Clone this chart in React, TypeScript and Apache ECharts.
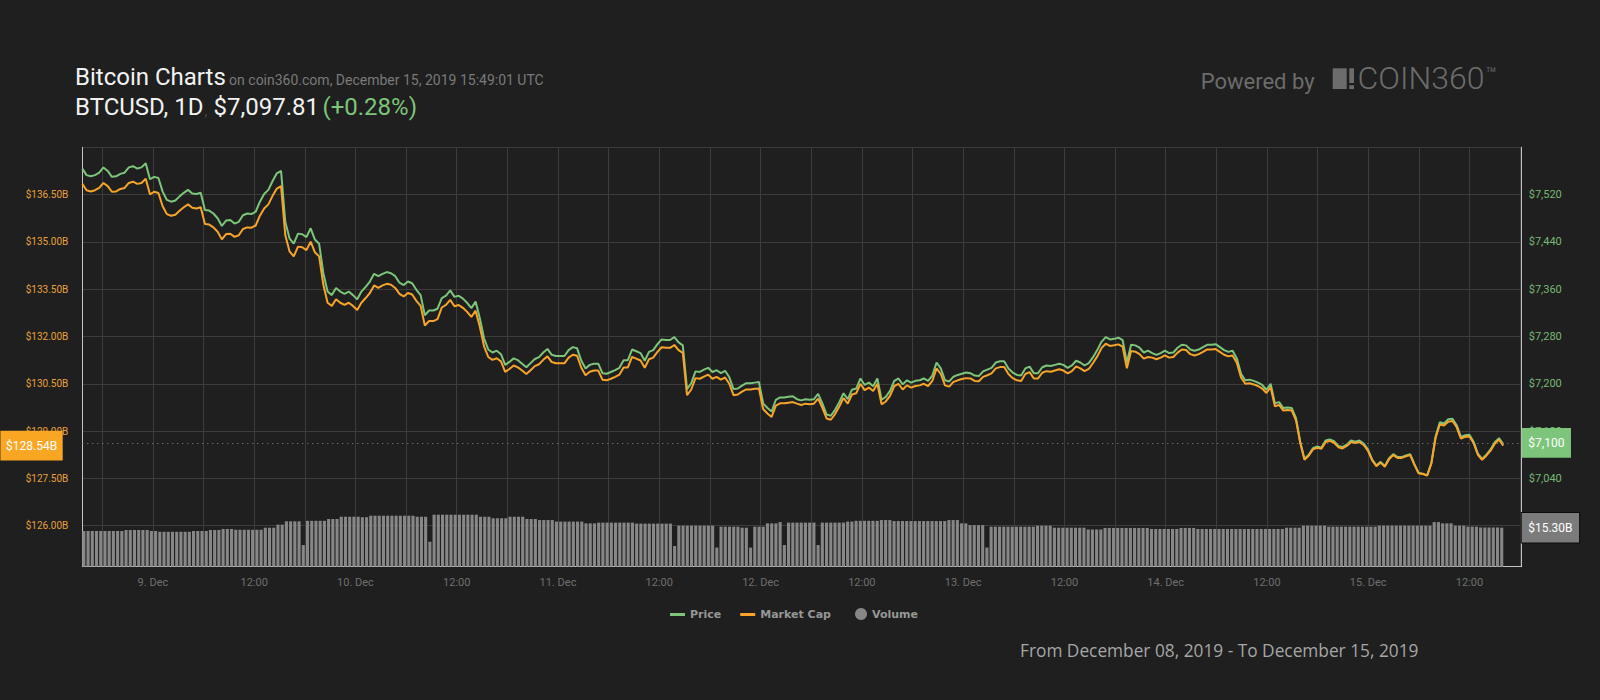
import React, { useEffect, useRef } from "react";
import * as echarts from "echarts";

// ---------- time axis ----------
const START_TIME = Date.UTC(2019, 11, 8, 15, 49, 1);
const STEP_MS = 30 * 60 * 1000;
const AXIS_END_TIME = Date.UTC(2019, 11, 15, 18, 0, 0);
const HALF_DAY_MS = 12 * 3600 * 1000;
const MONTHS = ["Jan", "Feb", "Mar", "Apr", "May", "Jun", "Jul", "Aug", "Sep", "Oct", "Nov", "Dec"];

// ---------- series (30-minute samples) ----------
const PRICE = [
  7564, 7553, 7551, 7553, 7557, 7566, 7560, 7550, 7551, 7555,
  7557, 7566, 7568, 7564, 7566, 7573, 7546, 7550, 7548, 7525,
  7511, 7508, 7510, 7517, 7523, 7528, 7522, 7521, 7523, 7494,
  7493, 7488, 7480, 7467, 7476, 7477, 7471, 7474, 7485, 7488,
  7487, 7491, 7508, 7521, 7528, 7543, 7556, 7560, 7474, 7446,
  7437, 7454, 7453, 7448, 7463, 7444, 7437, 7387, 7356, 7350,
  7362, 7356, 7352, 7356, 7350, 7343, 7356, 7364, 7373, 7386,
  7382, 7386, 7389, 7387, 7382, 7371, 7367, 7373, 7370, 7359,
  7350, 7316, 7324, 7324, 7327, 7345, 7349, 7358, 7347, 7349,
  7344, 7337, 7328, 7339, 7311, 7277, 7258, 7253, 7256, 7250,
  7232, 7237, 7243, 7240, 7234, 7228, 7235, 7242, 7245, 7253,
  7259, 7249, 7247, 7247, 7247, 7257, 7262, 7260, 7239, 7226,
  7232, 7234, 7234, 7218, 7217, 7220, 7223, 7227, 7240, 7240,
  7258, 7255, 7252, 7239, 7254, 7257, 7267, 7275, 7274, 7274,
  7279, 7270, 7265, 7191, 7201, 7221, 7220, 7224, 7227, 7220,
  7223, 7218, 7222, 7211, 7191, 7192, 7197, 7201, 7201, 7202,
  7203, 7167, 7159, 7153, 7173, 7177, 7177, 7178, 7179, 7174,
  7172, 7174, 7173, 7174, 7183, 7167, 7148, 7146, 7156, 7169,
  7184, 7174, 7190, 7192, 7209, 7198, 7202, 7196, 7209, 7173,
  7178, 7188, 7205, 7209, 7199, 7206, 7202, 7205, 7206, 7209,
  7205, 7214, 7236, 7226, 7206, 7204, 7212, 7215, 7217, 7219,
  7218, 7214, 7213, 7221, 7224, 7227, 7236, 7238, 7238, 7226,
  7219, 7215, 7214, 7226, 7229, 7218, 7218, 7228, 7231, 7230,
  7232, 7234, 7232, 7227, 7231, 7239, 7236, 7231, 7235, 7245,
  7257, 7271, 7279, 7275, 7276, 7278, 7274, 7236, 7266, 7265,
  7261, 7253, 7256, 7252, 7249, 7252, 7256, 7252, 7253, 7261,
  7266, 7265, 7258, 7256, 7258, 7262, 7266, 7266, 7267, 7262,
  7257, 7254, 7256, 7243, 7217, 7206, 7207, 7205, 7202, 7198,
  7190, 7200, 7167, 7169, 7159, 7160, 7159, 7142, 7102, 7073,
  7080, 7091, 7094, 7092, 7104, 7106, 7103, 7095, 7093, 7097,
  7104, 7102, 7104, 7099, 7089, 7072, 7062, 7068, 7061, 7074,
  7081, 7076, 7076, 7079, 7081, 7064, 7049, 7048, 7045, 7066,
  7111, 7135, 7133, 7140, 7141, 7130, 7110, 7113, 7114, 7102,
  7082, 7073, 7080, 7089, 7101, 7108, 7098,
];

const MARKET_CAP = [
  136.84, 136.64, 136.60, 136.64, 136.71, 136.87, 136.77, 136.59, 136.60, 136.68,
  136.71, 136.87, 136.91, 136.84, 136.87, 137.00, 136.51, 136.59, 136.55, 136.13,
  135.88, 135.83, 135.86, 135.99, 136.10, 136.19, 136.08, 136.06, 136.10, 135.57,
  135.55, 135.46, 135.32, 135.08, 135.25, 135.26, 135.16, 135.21, 135.41, 135.46,
  135.45, 135.52, 135.83, 136.06, 136.19, 136.46, 136.69, 136.77, 135.21, 134.70,
  134.54, 134.85, 134.83, 134.74, 135.01, 134.67, 134.54, 133.64, 133.07, 132.97,
  133.18, 133.07, 133.00, 133.07, 132.97, 132.84, 133.07, 133.22, 133.38, 133.62,
  133.54, 133.62, 133.67, 133.64, 133.54, 133.35, 133.27, 133.38, 133.33, 133.13,
  132.97, 132.35, 132.49, 132.49, 132.55, 132.92, 133.00, 133.16, 132.96, 133.00,
  132.91, 132.78, 132.62, 132.82, 132.31, 131.69, 131.35, 131.26, 131.31, 131.21,
  130.88, 130.97, 131.08, 131.02, 130.92, 130.81, 130.93, 131.06, 131.12, 131.26,
  131.37, 131.19, 131.15, 131.15, 131.15, 131.33, 131.42, 131.39, 131.01, 130.77,
  130.88, 130.92, 130.92, 130.63, 130.61, 130.66, 130.72, 130.79, 131.02, 131.02,
  131.35, 131.30, 131.24, 131.01, 131.28, 131.33, 131.51, 131.66, 131.64, 131.64,
  131.73, 131.57, 131.48, 130.14, 130.32, 130.68, 130.66, 130.73, 130.79, 130.66,
  130.72, 130.63, 130.70, 130.50, 130.14, 130.16, 130.25, 130.32, 130.32, 130.34,
  130.35, 129.70, 129.56, 129.45, 129.81, 129.88, 129.88, 129.90, 129.92, 129.87,
  129.83, 129.87, 129.85, 129.87, 130.03, 129.74, 129.40, 129.36, 129.54, 129.78,
  130.05, 129.87, 130.16, 130.20, 130.50, 130.30, 130.38, 130.27, 130.50, 129.85,
  129.94, 130.12, 130.43, 130.50, 130.32, 130.45, 130.38, 130.43, 130.45, 130.50,
  130.43, 130.59, 130.99, 130.81, 130.45, 130.41, 130.56, 130.61, 130.65, 130.68,
  130.67, 130.59, 130.58, 130.72, 130.77, 130.83, 130.99, 131.03, 131.03, 130.81,
  130.68, 130.61, 130.59, 130.81, 130.87, 130.67, 130.67, 130.85, 130.90, 130.88,
  130.92, 130.96, 130.92, 130.83, 130.90, 131.05, 130.99, 130.90, 130.97, 131.16,
  131.37, 131.63, 131.77, 131.70, 131.72, 131.75, 131.68, 130.99, 131.54, 131.52,
  131.44, 131.30, 131.35, 131.33, 131.28, 131.33, 131.40, 131.33, 131.35, 131.49,
  131.59, 131.57, 131.44, 131.40, 131.44, 131.51, 131.59, 131.59, 131.60, 131.51,
  131.42, 131.37, 131.40, 131.17, 130.70, 130.50, 130.52, 130.48, 130.43, 130.35,
  130.21, 130.39, 129.79, 129.83, 129.65, 129.67, 129.65, 129.34, 128.62, 128.09,
  128.22, 128.42, 128.47, 128.44, 128.65, 128.69, 128.63, 128.49, 128.45, 128.53,
  128.65, 128.62, 128.65, 128.56, 128.38, 128.07, 127.89, 128.00, 127.87, 128.11,
  128.24, 128.15, 128.15, 128.20, 128.24, 127.93, 127.66, 127.64, 127.59, 127.97,
  128.78, 129.21, 129.18, 129.30, 129.32, 129.12, 128.76, 128.82, 128.83, 128.62,
  128.25, 128.09, 128.22, 128.38, 128.60, 128.73, 128.54,
];

const VOLUME = [
  14.0, 14.0, 14.0, 14.0, 14.0, 14.0, 14.0, 14.0, 14.0, 14.0,
  14.4, 14.4, 14.4, 14.4, 14.4, 14.4, 14.0, 14.0, 13.7, 13.7,
  13.7, 13.7, 13.7, 13.7, 13.7, 13.7, 14.0, 14.0, 14.0, 14.0,
  14.4, 14.4, 14.4, 14.8, 14.8, 14.8, 14.5, 14.5, 14.5, 14.5,
  14.5, 14.5, 14.5, 15.3, 15.3, 15.3, 16.5, 16.5, 17.8, 17.8,
  17.8, 17.8, 8.5, 18.0, 18.0, 18.0, 18.0, 18.0, 18.7, 18.7,
  18.7, 19.6, 19.6, 19.6, 19.6, 19.6, 19.4, 19.4, 20.0, 20.0,
  20.0, 20.0, 20.0, 20.0, 20.0, 20.0, 20.0, 20.0, 20.0, 19.6,
  19.6, 19.6, 9.8, 20.4, 20.4, 20.4, 20.4, 20.4, 20.4, 20.4,
  20.4, 20.4, 20.4, 20.4, 19.6, 19.6, 19.6, 19.0, 19.0, 19.0,
  19.0, 19.6, 19.6, 19.6, 19.6, 18.7, 18.7, 18.7, 18.3, 18.3,
  18.3, 18.3, 17.7, 17.7, 17.7, 17.7, 17.7, 17.7, 17.7, 17.0,
  17.0, 17.0, 17.3, 17.3, 17.3, 17.3, 17.3, 17.3, 17.3, 17.3,
  17.3, 16.9, 16.9, 16.9, 16.9, 16.9, 16.9, 16.9, 16.9, 16.9,
  8.1, 16.1, 16.1, 16.1, 16.1, 16.1, 16.1, 16.1, 16.1, 16.1,
  7.5, 15.7, 15.7, 15.7, 15.7, 15.7, 15.3, 15.3, 7.5, 15.7,
  15.7, 15.7, 17.0, 17.0, 17.0, 17.5, 8.5, 17.3, 17.3, 17.3,
  17.3, 17.3, 17.3, 17.3, 8.5, 17.3, 17.3, 17.3, 17.3, 17.3,
  17.3, 17.7, 17.7, 18.0, 18.0, 18.0, 18.0, 18.0, 18.0, 18.3,
  18.3, 18.3, 17.9, 17.9, 17.9, 17.9, 17.9, 17.9, 17.9, 17.9,
  17.9, 17.9, 17.9, 17.9, 17.9, 18.3, 18.3, 18.3, 17.0, 17.0,
  16.3, 16.3, 16.3, 16.3, 7.5, 15.7, 15.7, 15.7, 15.7, 15.7,
  15.7, 15.7, 15.7, 15.7, 15.7, 15.7, 16.1, 16.1, 16.1, 16.1,
  15.3, 15.3, 15.3, 15.3, 15.3, 15.3, 15.3, 15.3, 14.6, 14.6,
  14.6, 14.6, 15.2, 15.2, 15.2, 15.2, 15.2, 15.2, 15.2, 15.2,
  15.2, 15.2, 15.2, 14.8, 14.8, 14.8, 14.8, 14.8, 14.8, 14.8,
  15.2, 15.2, 15.2, 15.2, 14.8, 14.8, 14.8, 14.8, 14.8, 14.8,
  14.8, 14.8, 14.8, 14.8, 14.8, 14.8, 14.8, 14.8, 14.8, 14.8,
  14.8, 14.8, 14.8, 14.8, 14.8, 15.3, 15.3, 15.3, 15.3, 16.1,
  16.1, 16.1, 16.1, 16.1, 16.1, 15.7, 15.7, 15.7, 15.7, 15.7,
  15.7, 15.7, 15.7, 15.7, 15.7, 15.7, 15.7, 16.1, 16.1, 16.1,
  16.1, 16.1, 16.1, 16.1, 16.1, 16.1, 16.1, 16.1, 16.1, 16.1,
  17.5, 17.5, 17.0, 17.0, 17.0, 16.1, 16.1, 16.1, 15.7, 15.7,
  15.7, 15.4, 15.4, 15.4, 15.4, 15.4, 15.3,
];

// ---------- axes ----------
const MCAP_MIN = 124.5;
const MCAP_MAX = 138;
const MCAP_STEP = 1.5;
const PRICE_MIN = 6880;
const PRICE_MAX = 7600;
const PRICE_STEP = 80;
const PRICE_LOWEST_SHOWN_LABEL = 7040; // lower labels sit behind the volume tag
const VOLUME_AXIS_MAX = 164.5;

// ---------- last value tags ----------
const LAST_PRICE_TAG = 7100;
const LAST_MCAP_TAG = 128.54;
const LAST_VOLUME_TAG = 15.3;

// ---------- texts ----------
const HEADER_TITLE = "Bitcoin Charts";
const HEADER_SOURCE = "on coin360.com, December 15, 2019 15:49:01 UTC";
const HEADER_PAIR = "BTCUSD, 1D";
const HEADER_PRICE = "$7,097.81";
const HEADER_CHANGE = "(+0.28%)";
const FOOTER_RANGE = "From December 08, 2019 - To December 15, 2019";

// ---------- colours & fonts ----------
const BG = "#1e1f1e";
const GREEN = "#7dc57a";
const ORANGE = "#f7a52a";
const GRID = "#3b3c3b";
const AXIS = "#c4c4c4";
const LOGO = "#6c6c6c";
const VOL_GREY = "#878787";
const FONT = "Roboto, 'Noto Sans', sans-serif";
const LEGEND_FONT = "'DejaVu Sans', Verdana, sans-serif";

const fmtTime = (v: number) => {
  const d = new Date(v);
  if (d.getUTCMinutes() !== 0 || d.getUTCSeconds() !== 0) return "";
  const h = d.getUTCHours();
  if (h === 0) return `${d.getUTCDate()}. ${MONTHS[d.getUTCMonth()]}`;
  if (h === 12) return "12:00";
  return "";
};

const fmtPrice = (v: number) => "$" + Math.round(v).toLocaleString("en-US");
const fmtBillions = (v: number) => "$" + v.toFixed(2) + "B";

export default function App() {
  const ref = useRef<HTMLDivElement>(null);

  useEffect(() => {
    if (!ref.current) return;
    const chart = echarts.init(ref.current, undefined, { renderer: "svg" });

    const times = PRICE.map((_, i) => START_TIME + i * STEP_MS);
    const priceData = PRICE.map((v, i) => [times[i], v]);
    const mcapData = MARKET_CAP.map((v, i) => [times[i], v]);
    const volData = VOLUME.map((v, i) => [times[i], v]);

    const gridLeft = 82.3;
    const gridRight = 78.3;
    const gridTop = 147.3;

    const legendText = { color: "#979797", fontSize: 11, fontWeight: "bold", fontFamily: LEGEND_FONT };

    const tagLabel = (text: string, bg: string, position: string, distance: number, padding: number[], extra: any = {}) => ({
      show: true,
      position,
      distance,
      formatter: () => text,
      color: "#ffffff",
      fontSize: 12,
      lineHeight: 12,
      fontFamily: FONT,
      backgroundColor: bg,
      padding,
      ...extra,
    });

    const option: any = {
      animation: false,
      useUTC: true,
      backgroundColor: BG,
      textStyle: { fontFamily: FONT },
      grid: [
        { left: gridLeft, right: gridRight, top: gridTop, height: 425.7 },
        { left: gridLeft, right: gridRight, top: gridTop, height: 419.4 },
      ],
      legend: [
        {
          left: 665,
          top: 604,
          itemWidth: 15,
          itemHeight: 3,
          itemGap: 19,
          icon: "rect",
          selectedMode: false,
          textStyle: legendText,
          data: ["Price", "Market Cap"],
        },
        {
          left: 850,
          top: 603,
          itemWidth: 12,
          itemHeight: 12,
          icon: "circle",
          selectedMode: false,
          textStyle: legendText,
          data: ["Volume"],
        },
      ],
      xAxis: [
        {
          type: "time",
          gridIndex: 0,
          min: START_TIME,
          max: AXIS_END_TIME,
          show: false,
        },
        {
          type: "time",
          gridIndex: 1,
          min: START_TIME,
          max: AXIS_END_TIME,
          minInterval: HALF_DAY_MS,
          maxInterval: HALF_DAY_MS,
          axisLine: { show: true, onZero: false, lineStyle: { color: AXIS, width: 1 } },
          axisTick: { show: false },
          splitLine: { show: true, lineStyle: { color: GRID, width: 1 } },
          axisLabel: {
            color: "#6f6f6f",
            fontSize: 11,
            margin: 10,
            showMinLabel: false,
            showMaxLabel: false,
            formatter: (v: number) => fmtTime(v),
          },
        },
      ],
      yAxis: [
        {
          type: "value",
          gridIndex: 0,
          position: "left",
          min: MCAP_MIN,
          max: MCAP_MAX,
          interval: MCAP_STEP,
          axisLine: { show: false },
          axisTick: { show: false },
          splitLine: { show: true, showMinLine: false, lineStyle: { color: GRID, width: 1 } },
          axisLabel: {
            color: "#e9a13b",
            fontSize: 10,
            margin: 14,
            showMinLabel: false,
            showMaxLabel: false,
            formatter: (v: number) => fmtBillions(v),
          },
        },
        {
          type: "value",
          gridIndex: 0,
          position: "right",
          min: PRICE_MIN,
          max: PRICE_MAX,
          interval: PRICE_STEP,
          axisLine: { show: false },
          axisTick: { show: false },
          splitLine: { show: false },
          axisLabel: {
            color: "#78b875",
            fontSize: 11,
            margin: 7,
            showMinLabel: false,
            showMaxLabel: false,
            formatter: (v: number) => (v < PRICE_LOWEST_SHOWN_LABEL ? "" : fmtPrice(v)),
          },
        },
        {
          type: "value",
          gridIndex: 1,
          position: "left",
          min: 0,
          max: VOLUME_AXIS_MAX,
          axisLine: { show: true, onZero: false, lineStyle: { color: AXIS, width: 1 } },
          axisTick: { show: false },
          axisLabel: { show: false },
          splitLine: { show: false },
        },
        {
          type: "value",
          gridIndex: 1,
          position: "right",
          min: 0,
          max: 1,
          axisLine: { show: true, onZero: false, lineStyle: { color: AXIS, width: 1 } },
          axisTick: { show: false },
          axisLabel: { show: false },
          splitLine: { show: false },
        },
      ],
      series: [
        {
          name: "Volume",
          type: "bar",
          xAxisIndex: 1,
          yAxisIndex: 2,
          data: volData,
          barWidth: 3.1,
          itemStyle: { color: VOL_GREY },
          markLine: {
            silent: true,
            symbol: ["none", "none"],
            data: [{ yAxis: LAST_VOLUME_TAG }],
            lineStyle: { color: "rgba(0,0,0,0)", width: 1, type: "solid" },
            label: tagLabel(fmtBillions(LAST_VOLUME_TAG), "#7b7b7b", "end", 0, [8.8, 6.5, 8.8, 6.5], {
              borderColor: "#0c0c0c",
              borderWidth: 1,
            }),
          },
        },
        {
          name: "Price",
          type: "line",
          xAxisIndex: 0,
          yAxisIndex: 1,
          data: priceData,
          symbol: "none",
          showSymbol: false,
          lineStyle: { color: GREEN, width: 2 },
          itemStyle: { color: GREEN },
          markLine: {
            silent: true,
            symbol: ["none", "none"],
            data: [{ yAxis: LAST_PRICE_TAG }],
            lineStyle: { color: "#8a8a8a", type: [1, 4], width: 1 },
            label: tagLabel(fmtPrice(LAST_PRICE_TAG), GREEN, "end", 0, [8.8, 6.6, 8.8, 6.6]),
          },
        },
        {
          name: "Market Cap",
          type: "line",
          xAxisIndex: 0,
          yAxisIndex: 0,
          data: mcapData,
          symbol: "none",
          showSymbol: false,
          lineStyle: { color: ORANGE, width: 2 },
          itemStyle: { color: ORANGE },
          markLine: {
            silent: true,
            symbol: ["none", "none"],
            data: [{ yAxis: LAST_MCAP_TAG }],
            lineStyle: { color: "rgba(0,0,0,0)", width: 1, type: "solid" },
            label: tagLabel(fmtBillions(LAST_MCAP_TAG), "#f9a623", "start", 19.6, [8.8, 5.6, 8.8, 5.6]),
          },
        },
      ],
      graphic: [
        {
          type: "text",
          x: 75,
          y: 64.5,
          style: {
            text: `{t|${HEADER_TITLE}} {s|${HEADER_SOURCE}}`,
            verticalAlign: "top",
            rich: {
              t: { fontSize: 24, lineHeight: 24, fill: "#f2f2f2", fontFamily: FONT, verticalAlign: "bottom" },
              s: { fontSize: 14, lineHeight: 14, fill: "#7a7a7a", fontFamily: FONT, verticalAlign: "bottom", padding: [0, 0, 1.5, 0] },
            },
          },
        },
        {
          type: "text",
          x: 75,
          y: 95,
          style: {
            text: `{t|${HEADER_PAIR}}{c|,} {t|${HEADER_PRICE}} {g|${HEADER_CHANGE}}`,
            verticalAlign: "top",
            rich: {
              t: { fontSize: 24, lineHeight: 24, fill: "#f2f2f2", fontFamily: FONT, verticalAlign: "bottom" },
              c: { fontSize: 14, lineHeight: 14, fill: "#4a4a4a", fontFamily: FONT, verticalAlign: "bottom", padding: [0, 3, 1.5, 1] },
              g: { fontSize: 24, lineHeight: 24, fill: GREEN, fontFamily: FONT, verticalAlign: "bottom" },
            },
          },
        },
        {
          type: "text",
          x: 1200.7,
          y: 81.5,
          style: { text: "Powered by", fontSize: 22, fontFamily: FONT, fill: LOGO, verticalAlign: "middle" },
        },
        { type: "rect", shape: { x: 1332.7, y: 68.3, width: 14, height: 20.7 }, style: { fill: LOGO } },
        { type: "rect", shape: { x: 1349.3, y: 68.3, width: 4.7, height: 14.7 }, style: { fill: LOGO } },
        { type: "rect", shape: { x: 1349.3, y: 85.3, width: 4.7, height: 3.7 }, style: { fill: LOGO } },
        {
          type: "text",
          x: 1357.5,
          y: 62,
          style: {
            text: "{c|COIN360}{tm|™}",
            verticalAlign: "top",
            rich: {
              c: { fontSize: 32, lineHeight: 32, fontWeight: 300, fontFamily: FONT, fill: LOGO, verticalAlign: "bottom" },
              tm: { fontSize: 18, lineHeight: 18, fontWeight: 300, fontFamily: FONT, fill: LOGO, verticalAlign: "top", padding: [2, 0, 0, 1] },
            },
          },
        },
        {
          type: "text",
          x: 1020,
          y: 650,
          style: { text: FOOTER_RANGE, fontSize: 17.3, fontFamily: "'Open Sans', sans-serif", fill: "#a6a6a6", verticalAlign: "middle" },
        },
      ],
    };

    chart.setOption(option);
    return () => chart.dispose();
  }, []);

  return (
    <div
      ref={ref}
      style={{ position: "fixed", left: 0, top: 0, width: 1600, height: 700, background: BG }}
    />
  );
}
